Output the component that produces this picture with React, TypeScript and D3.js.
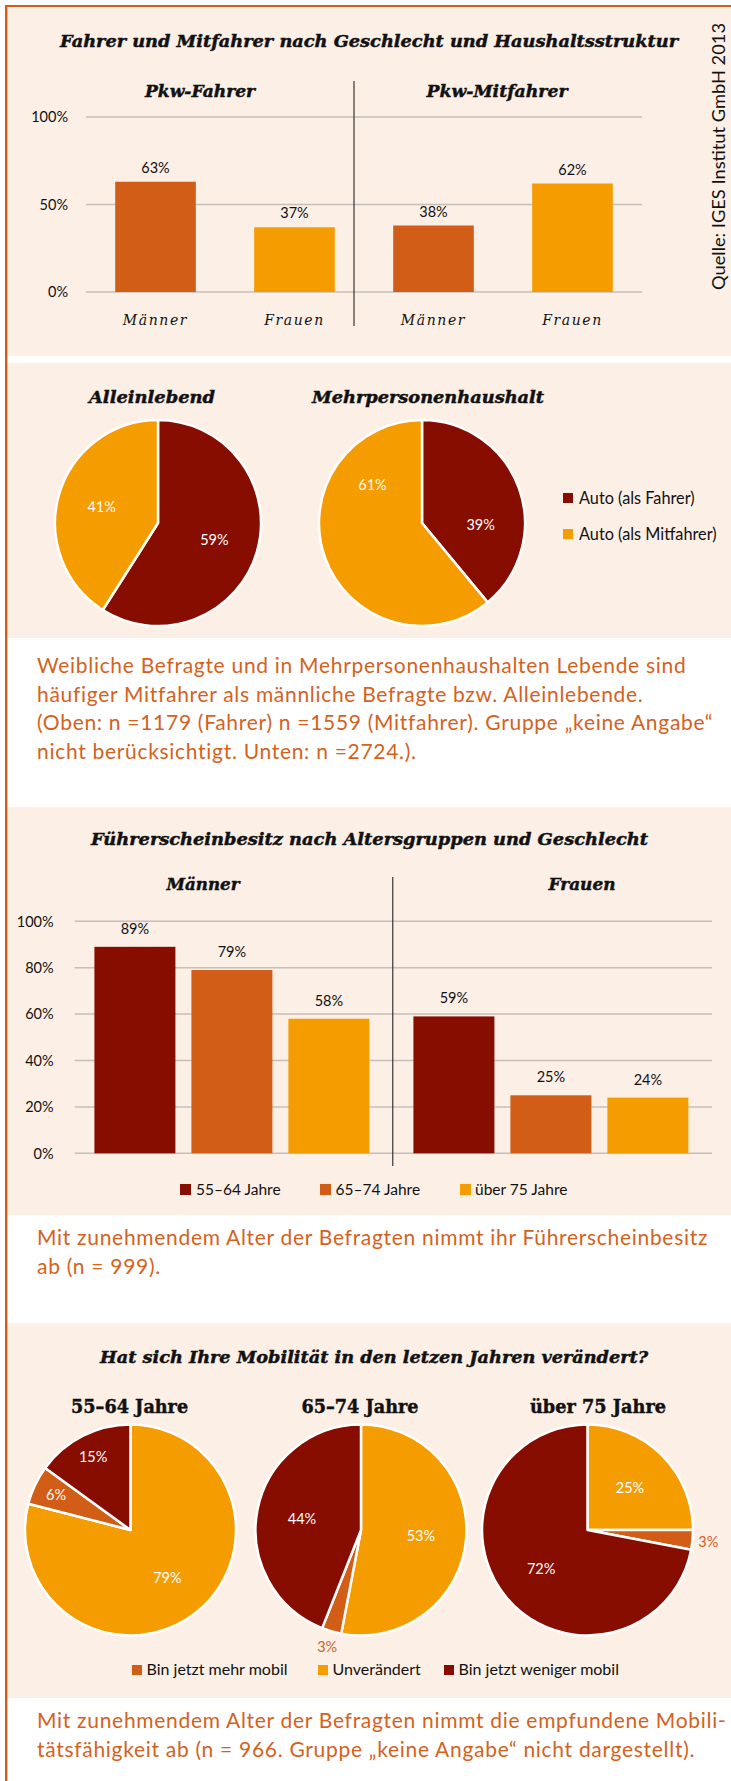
import React from 'react';
import * as d3 from 'd3';

// ---------- colours ----------
const C_DARK = '#860d00';
const C_MID = '#d15d16';
const C_LIGHT = '#f49c00';
const BG = '#fcefe6';
const TXT_OR = '#d4621d';
const GRID = '#c4bfbb';

// ---------- data: chart 1 ----------
const chart1Title = 'Fahrer und Mitfahrer nach Geschlecht und Haushaltsstruktur';
const roles1 = ['Pkw-Fahrer', 'Pkw-Mitfahrer'];
const genders1 = ['Männer', 'Frauen'];
const fahrerValues = [63, 37];
const mitfahrerValues = [38, 62];
const ticks1 = [0, 50, 100];

// ---------- data: chart 2 ----------
const pieTitles2 = ['Alleinlebend', 'Mehrpersonenhaushalt'];
const legend2 = ['Auto (als Fahrer)', 'Auto (als Mitfahrer)'];
const alleinValues = [59, 41];
const mehrValues = [39, 61];
const note2 = [
  'Weibliche Befragte und in Mehrpersonenhaushalten Lebende sind',
  'häufiger Mitfahrer als männliche Befragte bzw. Alleinlebende.',
  '(Oben: n =1179 (Fahrer) n =1559 (Mitfahrer). Gruppe „keine Angabe“',
  'nicht berücksichtigt. Unten: n =2724.).',
];

// ---------- data: chart 3 ----------
const chart3Title = 'Führerscheinbesitz nach Altersgruppen und Geschlecht';
const genders3 = ['Männer', 'Frauen'];
const ageGroups = ['55–64 Jahre', '65–74 Jahre', 'über 75 Jahre'];
const maennerLicense = [89, 79, 58];
const frauenLicense = [59, 25, 24];
const ticks3 = [0, 20, 40, 60, 80, 100];
const note3 = [
  'Mit zunehmendem Alter der Befragten nimmt ihr Führerscheinbesitz',
  'ab (n = 999).',
];

// ---------- data: chart 4 ----------
const chart4Title = 'Hat sich Ihre Mobilität in den letzen Jahren verändert?';
const mobilityLegend = ['Bin jetzt mehr mobil', 'Unverändert', 'Bin jetzt weniger mobil'];
const sliceOrder = ['Unverändert', 'Bin jetzt mehr mobil', 'Bin jetzt weniger mobil'];
const mob5564 = [79, 6, 15];
const mob6574 = [53, 3, 44];
const mobUeber75 = [25, 3, 72];
const note4 = [
  'Mit zunehmendem Alter der Befragten nimmt die empfundene Mobili-',
  'tätsfähigkeit ab (n = 966. Gruppe „keine Angabe“ nicht dargestellt).',
];
const source = 'Quelle: IGES Institut GmbH 2013';

// ---------- fonts ----------
const HEAD = "'DejaVu Serif', serif";
const SANS = "Lato, 'DejaVu Sans', sans-serif";
const NOTE_SIZE = 21;
const NOTE_SPACING = 0.7;

const mobColor: Record<string, string> = {
  'Bin jetzt mehr mobil': C_MID,
  'Unverändert': C_LIGHT,
  'Bin jetzt weniger mobil': C_DARK,
};

function Heading({ x, y, text, size = 16, len, italic = true }: any) {
  return (
    <text x={x} y={y} textAnchor="middle" fontFamily={HEAD} fontWeight="bold"
      fontStyle={italic ? 'italic' : 'normal'} fontSize={size}
      textLength={len} lengthAdjust="spacingAndGlyphs" fill="#111"
      stroke="#111" strokeWidth={0.45}>{text}</text>
  );
}

function Note({ lines, y0, step }: any) {
  return (
    <g>
      {lines.map((l: string, i: number) => (
        <text key={i} x={37} y={y0 + i * step} fontFamily={SANS} fontSize={NOTE_SIZE}
          letterSpacing={NOTE_SPACING} fill={TXT_OR}>{l}</text>
      ))}
    </g>
  );
}

// label placement: [fraction of slice angle, fraction of radius]; default is the slice centroid
function Pie({ cx, cy, r, values, colors, labelPlace }: any) {
  const pie = d3.pie<number>().sort(null).value((d) => d);
  const arcs = pie(values);
  const arc = d3.arc<d3.PieArcDatum<number>>().innerRadius(0).outerRadius(r);
  return (
    <g transform={`translate(${cx},${cy})`}>
      {arcs.map((a, i) => (
        <path key={i} d={arc(a) || ''} fill={colors[i]} stroke="#fff" strokeWidth={2.5} strokeLinejoin="round" />
      ))}
      {arcs.map((a, i) => {
        const v = values[i];
        const place = labelPlace && labelPlace[i];
        const f = place ? place[1] : v < 5 ? 1.15 : v < 20 ? 0.78 : 0.57;
        const t = place ? place[0] : 0.5;
        const ang = a.startAngle + (a.endAngle - a.startAngle) * t;
        const lx = Math.sin(ang) * r * f;
        const ly = -Math.cos(ang) * r * f;
        return (
          <text key={'l' + i} x={lx} y={ly} dy="0.36em" textAnchor="middle" fontFamily={SANS}
            fontSize={14.5} fill={v < 5 ? TXT_OR : '#fff'}>{v}%</text>
        );
      })}
    </g>
  );
}

export default function App() {
  const W = 731, H = 1781;

  // ----- chart 1 scales -----
  const cats1 = roles1.flatMap((r) => genders1.map((g) => r + '|' + g));
  const vals1 = [...fahrerValues, ...mitfahrerValues];
  const x1 = d3.scaleBand<string>().domain(cats1).range([86, 642]).paddingInner(0.42).paddingOuter(0.21);
  const y1 = d3.scaleLinear().domain([0, 100]).range([292, 117]);

  // ----- chart 3 scales -----
  const x3o = d3.scaleBand<string>().domain(genders3).range([74.6, 712.6]);
  const x3i = d3.scaleBand<string>().domain(ageGroups).range([0, x3o.bandwidth()])
    .paddingInner(0.165).paddingOuter(0.227).align(0.45);
  const y3 = d3.scaleLinear().domain([0, 100]).range([1153.3, 921.3]);
  const lic = [maennerLicense, frauenLicense];
  const ageColors = [C_DARK, C_MID, C_LIGHT];

  const mobPies = [mob5564, mob6574, mobUeber75];
  const mobCx = [130.5, 361, 587.5];
  const mobTitleX = [129.6, 360, 598];

  return (
    <svg width={W} height={H} style={{ position: 'absolute', left: 0, top: 0 }} xmlns="http://www.w3.org/2000/svg">
      <rect x={0} y={0} width={W} height={H} fill="#fff" />
      {/* panels */}
      <rect x={7} y={7} width={W - 7} height={349} fill={BG} />
      <rect x={7} y={363} width={W - 7} height={275} fill={BG} />
      <rect x={7} y={807} width={W - 7} height={408} fill={BG} />
      <rect x={7} y={1323} width={W - 7} height={375} fill={BG} />
      {/* border */}
      <line x1={5} y1={6} x2={W} y2={6} stroke={C_MID} strokeWidth={2.2} />
      <line x1={6.2} y1={5} x2={6.2} y2={H} stroke={C_MID} strokeWidth={2.4} />

      {/* ================= chart 1 ================= */}
      <Heading x={369} y={47} text={chart1Title} size={16} len={618} />
      <Heading x={200} y={97} text={roles1[0]} size={16} len={110} />
      <Heading x={497} y={97} text={roles1[1]} size={16} len={141} />
      {ticks1.map((t) => (
        <g key={t}>
          <line x1={86} x2={642} y1={y1(t)} y2={y1(t)} stroke={GRID} strokeWidth={1.5} />
          <text x={68} y={y1(t)} dy="0.36em" textAnchor="end" fontFamily={SANS} fontSize={14.5} fill="#111">{t}%</text>
        </g>
      ))}
      <line x1={354} x2={354} y1={81} y2={326} stroke="#111" strokeWidth={1} />
      {cats1.map((c, i) => {
        const g = c.split('|')[1];
        const xx = x1(c)!;
        const bw = x1.bandwidth();
        return (
          <g key={c}>
            <rect x={xx} y={y1(vals1[i])} width={bw} height={y1(0) - y1(vals1[i])} fill={g === 'Männer' ? C_MID : C_LIGHT} />
            <text x={xx + bw / 2} y={y1(vals1[i]) - 9} textAnchor="middle" fontFamily={SANS} fontSize={14.5} fill="#111">{vals1[i]}%</text>
            <text x={xx + bw / 2} y={325} textAnchor="middle" fontFamily={HEAD} fontStyle="italic" fontSize={14}
              letterSpacing={1.6} fill="#111">{g}</text>
          </g>
        );
      })}
      <text transform="translate(725,290) rotate(-90)" fontFamily={SANS} fontSize={17} fill="#111"
        textLength={267} lengthAdjust="spacingAndGlyphs">{source}</text>

      {/* ================= chart 2 ================= */}
      <Heading x={152} y={403} text={pieTitles2[0]} size={16} len={126} />
      <Heading x={428} y={403} text={pieTitles2[1]} size={16} len={232} />
      <Pie cx={158} cy={523} r={103} values={alleinValues} colors={[C_DARK, C_LIGHT]} />
      <Pie cx={422} cy={523} r={103} values={mehrValues} colors={[C_DARK, C_LIGHT]}
        labelPlace={[[0.655, 0.57], [0.763, 0.61]]} />
      {legend2.map((l, i) => (
        <g key={l}>
          <rect x={563} y={493 + i * 36} width={10} height={10} fill={i === 0 ? C_DARK : C_LIGHT} />
          <text x={579} y={503.5 + i * 36} fontFamily={SANS} fontSize={16.3} fill="#111">{l}</text>
        </g>
      ))}
      <Note lines={note2} y0={673} step={28.5} />

      {/* ================= chart 3 ================= */}
      <Heading x={369.5} y={845} text={chart3Title} size={16} len={557} />
      <Heading x={203} y={890} text={genders3[0]} size={17} len={73} />
      <Heading x={582} y={890} text={genders3[1]} size={17} len={67} />
      {ticks3.map((t) => (
        <g key={t}>
          <line x1={74.6} x2={712} y1={y3(t)} y2={y3(t)} stroke={GRID} strokeWidth={1.5} />
          <text x={53.6} y={y3(t)} dy="0.36em" textAnchor="end" fontFamily={SANS} fontSize={14.5} fill="#111">{t}%</text>
        </g>
      ))}
      <line x1={392.8} x2={392.8} y1={877} y2={1166} stroke="#111" strokeWidth={1} />
      {genders3.map((g, gi) => (
        <g key={g} transform={`translate(${x3o(g)},0)`}>
          {ageGroups.map((a, ai) => {
            const v = lic[gi][ai];
            const xx = x3i(a)!;
            const bw = x3i.bandwidth();
            return (
              <g key={a}>
                <rect x={xx} y={y3(v)} width={bw} height={y3(0) - y3(v)} fill={ageColors[ai]} />
                <text x={xx + bw / 2} y={y3(v) - 13} textAnchor="middle" fontFamily={SANS} fontSize={14.5} fill="#111">{v}%</text>
              </g>
            );
          })}
        </g>
      ))}
      {ageGroups.map((a, i) => (
        <g key={a}>
          <rect x={180 + i * 140} y={1184} width={11} height={11} fill={ageColors[i]} />
          <text x={196 + i * 139.5} y={1194.5} fontFamily={SANS} fontSize={15.5} fill="#111">{a}</text>
        </g>
      ))}
      <Note lines={note3} y0={1245} step={28.5} />

      {/* ================= chart 4 ================= */}
      <Heading x={374} y={1363} text={chart4Title} size={16} len={548} />
      {ageGroups.map((a, i) => (
        <Heading key={a} x={mobTitleX[i]} y={1413} text={a} size={18} italic={false}
          len={i === 2 ? 136 : 117} />
      ))}
      {mobPies.map((vals, i) => (
        <Pie key={i} cx={mobCx[i]} cy={1530} r={105.5} values={vals}
          colors={sliceOrder.map((s) => mobColor[s])} />
      ))}
      {mobilityLegend.map((l, i) => {
        const sx = [132, 318, 444][i];
        return (
          <g key={l}>
            <rect x={sx} y={1665} width={10} height={10} fill={mobColor[l]} />
            <text x={sx + 14.5} y={1675} fontFamily={SANS} fontSize={16} fill="#111">{l}</text>
          </g>
        );
      })}
      <Note lines={note4} y0={1728} step={29} />
    </svg>
  );
}
